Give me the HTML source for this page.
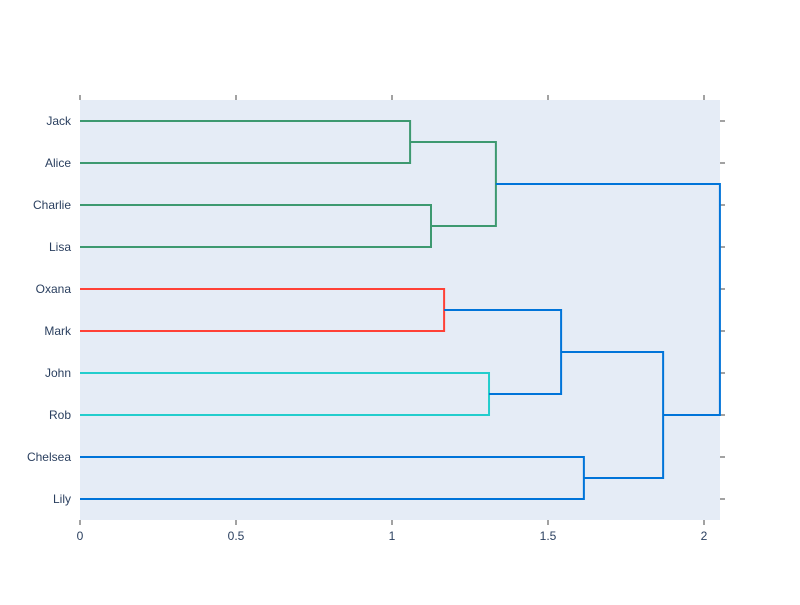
<!DOCTYPE html>
<html><head><meta charset="utf-8"><style>
body{margin:0;background:#fff;font-family:"Liberation Sans",Arial,sans-serif}
</style></head><body>
<svg id="chart" width="800" height="600" xmlns="http://www.w3.org/2000/svg">
<rect x="0" y="0" width="800" height="600" fill="#fff"/>
<rect x="80" y="100" width="640" height="420" fill="#e5ecf6"/>
<g id="grid"></g><g id="axes"></g><g id="links"></g>
</svg>
<script>
const leaves = ["Jack","Alice","Charlie","Lisa","Oxana","Mark","John","Rob","Chelsea","Lily"];
const xTicks = [0,0.5,1,1.5,2];
const xTickLabels = ["0","0.5","1","1.5","2"];
// merges: [leftNode, rightNode, height, color]; nodes: leaf index or "c"+mergeIndex
const mergeLeft = [0,2,"c0",4,6,"c3",8,"c5","c2"];
const mergeRight = [1,3,"c1",5,7,"c4",9,"c6","c7"];
const mergeHeight = [1.058,1.125,1.333,1.167,1.311,1.542,1.615,1.869,2.051];
const mergeColor = ["rgb(61,153,112)","rgb(61,153,112)","rgb(61,153,112)","rgb(255,65,54)","rgb(35,205,205)","rgb(0,116,217)","rgb(0,116,217)","rgb(0,116,217)","rgb(0,116,217)"];

const X0=80,X1=720,Y0=100,Y1=520,xMax=2.0513;
const xs=v=>X0+v/xMax*(X1-X0);
const ys=i=>Y0+(5+10*i)/100*(Y1-Y0);
const NS="http://www.w3.org/2000/svg";
function mk(tag,attrs,parent){const e=document.createElementNS(NS,tag);for(const k in attrs)e.setAttribute(k,attrs[k]);document.getElementById(parent).appendChild(e);return e;}
xTicks.forEach((t,i)=>{
  const x=xs(t);
  let e=mk("line",{x1:x,x2:x,y1:520,y2:525,stroke:"#444","stroke-width":1},"axes");
  
  
  e=mk("line",{x1:x,x2:x,y1:95,y2:100,stroke:"#444","stroke-width":1},"axes");
  
  
  e=mk("text",{x:x,y:540,"text-anchor":"middle","font-size":12,fill:"#2a3f5f"},"axes");
  e.textContent=xTickLabels[i];
  
  
});
leaves.forEach((n,i)=>{
  const y=ys(i);
  let e=mk("line",{x1:720,x2:725,y1:y,y2:y,stroke:"#444","stroke-width":1},"axes");
  
  
  e=mk("text",{x:71,y:y+4,"text-anchor":"end","font-size":12,fill:"#2a3f5f"},"axes");
  e.textContent=n;
  
  
});
const pos={};
function node(n){ if(typeof n==="number") return {x:0,y:ys(n)}; return pos[n]; }
mergeLeft.forEach((l,i)=>{
  const a=node(l),b=node(mergeRight[i]),h=xs(mergeHeight[i]);
  const e=mk("path",{d:`M${a.x===0?X0:a.x},${a.y}H${h}V${b.y}H${b.x===0?X0:b.x}`,fill:"none",stroke:mergeColor[i],"stroke-width":2},"links");
  
  
  pos["c"+i]={x:h,y:(a.y+b.y)/2};
});
</script>
</body></html>
